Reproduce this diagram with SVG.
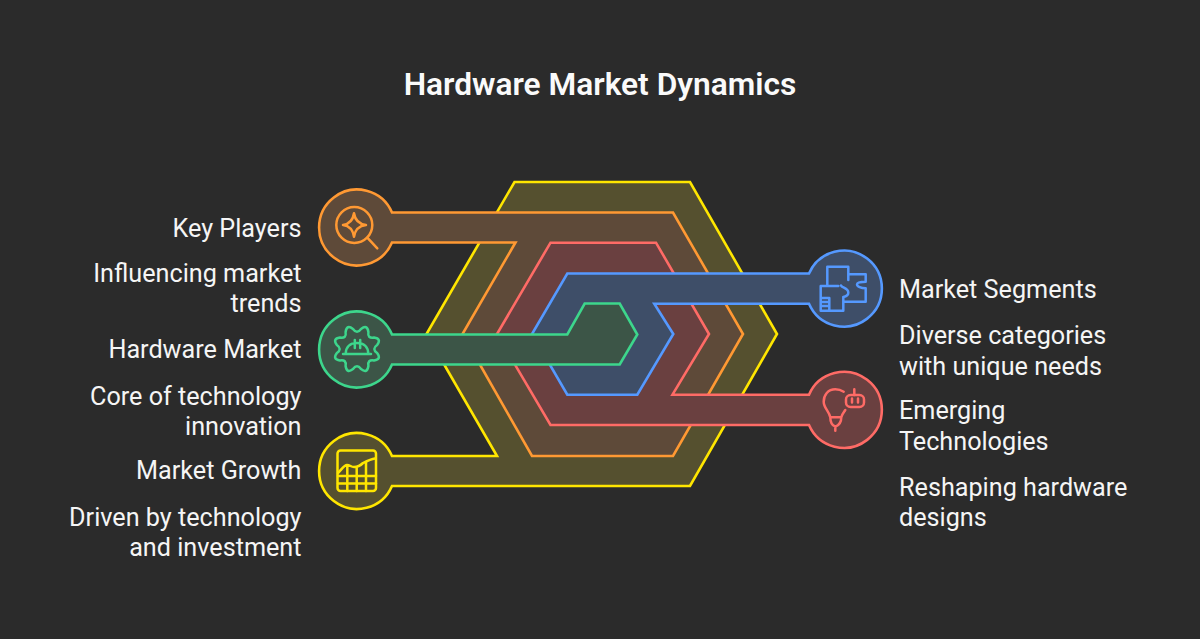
<svg xmlns="http://www.w3.org/2000/svg" width="1200" height="639" viewBox="0 0 1200 639">
<style>
.t{font-family:Roboto,"Liberation Sans",sans-serif;font-size:25.2px;fill:#f5f5f5}
.l{text-anchor:end}
.title{font-family:Roboto,"Liberation Sans",sans-serif;font-size:31.7px;font-weight:600;fill:#fafafa;text-anchor:middle}
.band{stroke-width:2.6;stroke-linejoin:miter}
.i{fill:none;stroke-width:2.5;stroke-linecap:round;stroke-linejoin:round}
.y{stroke:#ffe600}.o{stroke:#ff9933}.r{stroke:#ff6b66}.b{stroke:#5599ff}.g{stroke:#3dd68c}
</style>
<rect width="1200" height="639" fill="#2b2b2b"/>
<text class="title" x="600" y="94.7">Hardware Market Dynamics</text>
<g id="market-growth">
<path class="band y" fill="#55502f" d="M392,456L497,456L426.5,334L514.5,182L690,182L777,334L690,486L392,486A38,38 0 1 1 392,456Z"/>
<g class="i y"><rect x="337.5" y="450.5" width="38.5" height="40.5" rx="3"/><path d="M338,473C342,469 344,465 347,465C350,465 351,467 354,467C358,467 360,466 363,463C367,461 371,459 375,458.5M338,476H376M338,483.5H376M347.3,466V491M356.7,467V491M366,462V491"/></g>
<text class="t l" x="301.5" y="478.7">Market Growth</text>
<text class="t l" x="301.5" y="525.7">Driven by technology</text>
<text class="t l" x="301.5" y="555.7">and investment</text>
</g>
<g id="key-players">
<path class="band o" fill="#5e4a39" d="M392,212.5L673,212.5L743,334L673,456L532,456L462.5,334L515.5,242.5L392,242.5A38,38 0 1 1 392,212.5Z"/>
<g class="i o"><circle cx="354.3" cy="225" r="18"/><path d="M367.3,237.7L377.3,248.3M354,213.3C355,220 358,224 366,225C358,226 355,230 354,236.7C353,230 350,226 343,225C350,224 353,220 354,213.3Z"/></g>
<text class="t l" x="301.5" y="236.7">Key Players</text>
<text class="t l" x="301.5" y="281.7">Influencing market</text>
<text class="t l" x="301.5" y="311.7">trends</text>
</g>
<g id="emerging-technologies">
<path class="band r" fill="#6a4040" d="M809,425L550.5,425L497,334L550.5,242.7L656,242.7L709,334L672.5,394.7L809,394.7A38,38 0 1 1 809,425Z"/>
<g class="i r"><path d="M843.7,391.7C841,390 838,389.3 835.3,389.3C828,389.3 823.7,395 823.7,401.7C823.7,408 829,411 830.3,417.3H841.3C842,414 844,412 845.3,410M830.3,417.3C830.3,422 831,425 835.3,426.7C840,425 841.3,422 841.3,417.3M835.3,426.7V430.7M854.3,389.3V395M852,398.5V402.5M858,398.5V402.5"/><rect x="846" y="395" width="18" height="12" rx="4.5"/></g>
<text class="t" x="899" y="418.7">Emerging</text>
<text class="t" x="899" y="449.7">Technologies</text>
<text class="t" x="899" y="495.7">Reshaping hardware</text>
<text class="t" x="899" y="525.7">designs</text>
</g>
<g id="market-segments">
<path class="band b" fill="#3e4e68" d="M809,273.5L567.3,273.5L532,334L567.3,394.7L637.3,394.7L673.3,334L654.3,303.7L809,303.7A38,38 0 1 0 809,273.5Z"/>
<g class="i b"><path d="M827.3,286V266.7H848.3V280M820.7,286H838.3M820.7,286V310.7H843.3V297M848.3,274.3H865.7V281.7C861,281.7 857,282.5 857,284.5C857,286.5 861,288.3 865.7,288.3V301.7H843.3M841,285.5C842,288 848.3,288 848.3,292.7C848.3,295.5 845.5,296.5 843.3,297M820.7,298H829.3V310.7M820.7,302H829.3M820.7,306H829.3"/></g>
<text class="t" x="899" y="297.7">Market Segments</text>
<text class="t" x="899" y="343.7">Diverse categories</text>
<text class="t" x="899" y="374.7">with unique needs</text>
</g>
<g id="hardware-market">
<path class="band g" fill="#3c5547" d="M392,334.5L567.3,334.5L584.7,303.5L619.7,303.5L637.3,334.5L619.7,364.5L392,364.5A38,38 0 1 1 392,334.5Z"/>
<g class="i g" transform="translate(357,349)"><path d="M20.1,4Q24.9,10.3 17,11.4Q10.3,10.3 11.4,17Q10.3,24.9 4,20.1Q0,14.5 -4,20.1Q-10.3,24.9 -11.4,17Q-10.3,10.3 -17,11.4Q-24.9,10.3 -20.1,4Q-14.5,0 -20.1,-4Q-24.9,-10.3 -17,-11.4Q-10.3,-10.3 -11.4,-17Q-10.3,-24.9 -4,-20.1Q0,-14.5 4,-20.1Q10.3,-24.9 11.4,-17Q10.3,-10.3 17,-11.4Q24.9,-10.3 20.1,-4Q14.5,0 20.1,4Z"/><path d="M-14,5H14M-11.3,5C-11.3,-2 -7,-6 0,-6C7,-6 11.3,-2 11.3,5M-2.2,-9V-1M3.2,-9V-1"/></g>
<text class="t l" x="301.5" y="357.7">Hardware Market</text>
<text class="t l" x="301.5" y="404.7">Core of technology</text>
<text class="t l" x="301.5" y="434.7">innovation</text>
</g>
</svg>
